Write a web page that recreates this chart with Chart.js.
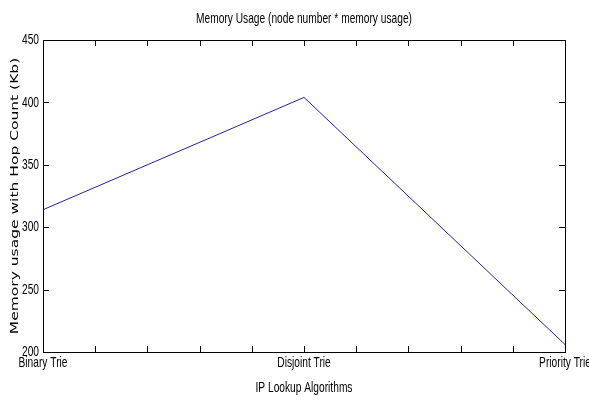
<!DOCTYPE html>
<html>
<head>
<meta charset="utf-8">
<script src="https://cdn.jsdelivr.net/npm/chart.js@4"></script>
<style>
  html, body { margin: 0; padding: 0; background: #fff; }
  #wrap { width: 589px; height: 400px; }
</style>
</head>
<body>
<div id="wrap"><canvas id="memChart"></canvas></div>
<script>
// chart data
const algorithms = ['Binary Trie', 'Disjoint Trie', 'Priority Trie'];
const memoryUsage = [314, 404, 206];
const yTicks = [200, 250, 300, 350, 400, 450];

const chartTitle = 'Memory Usage (node number * memory usage)';
const xTitle = 'IP Lookup Algorithms';
const yTitle = 'Memory usage with Hop Count (Kb)';

// the reference text looks horizontally squeezed, so draw it condensed
const squeeze = 0.68;
const labelFont = "15px 'Liberation Sans', Arial, sans-serif";
const yTitleFont = "15.5px 'DejaVu Sans', sans-serif";

function squeezedText(ctx, text, x, y, align) {
    ctx.save();
    ctx.translate(x, y);
    ctx.scale(squeeze, 1);
    ctx.textAlign = align;
    ctx.fillText(text, 0, 0);
    ctx.restore();
}

// MATLAB style box with inward ticks on all sides, plus the texts
const matlabAxes = {
    id: 'matlabAxes',
    afterDraw(chart) {
        const ctx = chart.ctx;
        const area = chart.chartArea;
        const xs = chart.scales.x;
        const ys = chart.scales.y;
        const len = 6;
        ctx.save();
        ctx.strokeStyle = '#000';
        ctx.lineWidth = 1;
        ctx.strokeRect(area.left + 0.5, area.top + 0.5, area.right - area.left, area.bottom - area.top);
        ctx.beginPath();
        xs.ticks.forEach(t => {
            const px = Math.round(xs.getPixelForValue(t.value)) + 0.5;
            ctx.moveTo(px, area.bottom);
            ctx.lineTo(px, area.bottom - len);
            ctx.moveTo(px, area.top);
            ctx.lineTo(px, area.top + len);
        });
        ys.ticks.forEach(t => {
            const py = Math.round(ys.getPixelForValue(t.value)) + 0.5;
            ctx.moveTo(area.left, py);
            ctx.lineTo(area.left + len, py);
            ctx.moveTo(area.right, py);
            ctx.lineTo(area.right - len, py);
        });
        ctx.stroke();

        ctx.fillStyle = '#000';
        ctx.font = labelFont;
        ctx.textBaseline = 'middle';

        // category labels sit on the integer ticks
        algorithms.forEach((name, i) => {
            squeezedText(ctx, name, xs.getPixelForValue(i), area.bottom + 11, 'center');
        });
        yTicks.forEach(v => {
            squeezedText(ctx, String(v), area.left - 4, ys.getPixelForValue(v), 'right');
        });

        squeezedText(ctx, xTitle, (area.left + area.right) / 2, area.bottom + 36, 'center');
        squeezedText(ctx, chartTitle, (area.left + area.right) / 2, 19, 'center');

        // rotated y title
        ctx.save();
        ctx.translate(15, (area.top + area.bottom) / 2);
        ctx.rotate(-Math.PI / 2);
        ctx.scale(1, squeeze);
        ctx.font = yTitleFont;
        ctx.textAlign = 'center';
        ctx.fillText(yTitle, 0, 0);
        ctx.restore();

        ctx.restore();
    }
};

new Chart(document.getElementById('memChart'), {
    type: 'line',
    data: {
        datasets: [{
            data: memoryUsage.map((v, i) => ({ x: i, y: v })),
            borderColor: '#24249a',
            borderWidth: 1,
            pointRadius: 0,
            tension: 0,
            fill: false
        }]
    },
    options: {
        responsive: true,
        maintainAspectRatio: false,
        animation: false,
        devicePixelRatio: 1,
        layout: { padding: { left: 43, right: 24, top: 40, bottom: 48 } },
        scales: {
            x: {
                type: 'linear',
                min: 0,
                max: 2,
                grid: { display: false, drawTicks: false },
                border: { display: false },
                ticks: { stepSize: 0.2, autoSkip: false, display: false },
                afterFit(scale) {
                    scale.height = 0;
                    scale.paddingLeft = 0;
                    scale.paddingRight = 0;
                }
            },
            y: {
                min: 200,
                max: 450,
                grid: { display: false, drawTicks: false },
                border: { display: false },
                afterBuildTicks(scale) {
                    scale.ticks = yTicks.map(v => ({ value: v }));
                },
                ticks: { display: false },
                afterFit(scale) {
                    scale.width = 0;
                    scale.paddingTop = 0;
                    scale.paddingBottom = 0;
                }
            }
        },
        plugins: {
            legend: { display: false },
            tooltip: { enabled: false },
            title: { display: false }
        }
    },
    plugins: [matlabAxes]
});
</script>
</body>
</html>
